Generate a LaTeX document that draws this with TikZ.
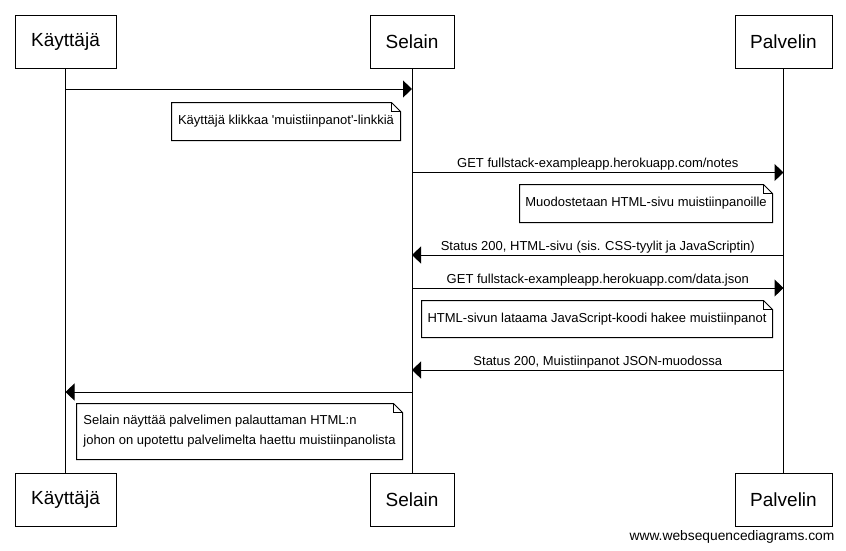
\documentclass[tikz,border=0pt]{standalone}
\usepackage{fontspec}
\setmainfont{Liberation Sans}[Ligatures=TeXOff]
\usetikzlibrary{arrows.meta}
\begin{document}
\begin{tikzpicture}[x=1pt,y=-1pt,
  line width=1pt,
  actor/.style={draw, line width=1pt, minimum height=53pt, inner sep=0pt, font=\fontsize{19}{22}\selectfont},
  notebox/.style={inner sep=0pt, font=\fontsize{13}{20}\selectfont, align=left},
  msg/.style={-{Triangle[length=9pt,width=17pt]}, line width=1pt},
  lbl/.style={above, inner sep=1.5pt, font=\fontsize{13}{15}\selectfont}]
\useasboundingbox[fill=white] (0,0) rectangle (846,550);

% participants
\node[actor, minimum width=101pt] (ka1) at (65.5,41.5) {Käyttäjä};
\node[actor, minimum width=84pt] (se1) at (412,41.5) {Selain};
\node[actor, minimum width=97pt] (pa1) at (783.5,41.5) {Palvelin};
\node[actor, minimum width=101pt] (ka2) at (65.5,499.5) {Käyttäjä};
\node[actor, minimum width=84pt] (se2) at (412,499.5) {Selain};
\node[actor, minimum width=97pt] (pa2) at (783.5,499.5) {Palvelin};

% lifelines
\draw (ka1.south) -- (ka2.north);
\draw (se1.south) -- (se2.north);
\draw (pa1.south) -- (pa2.north);

% message anchor points
\coordinate (k1) at (65.5,89);
\coordinate (s1) at (412,89);
\coordinate (s2) at (412,172.5);
\coordinate (p2) at (783.5,172.5);
\coordinate (p3) at (783.5,255);
\coordinate (s3) at (412,255);
\coordinate (s4) at (412,288);
\coordinate (p4) at (783.5,288);
\coordinate (p5) at (783.5,370);
\coordinate (s5) at (412,370);
\coordinate (s6) at (412,392);
\coordinate (k6) at (65.5,392);

\draw[msg] (k1) -- (s1);
\draw[msg] (s2) -- node[lbl] {GET fullstack-exampleapp.herokuapp.com/notes} (p2);
\draw[msg] (p3) -- node[lbl] {Status 200, HTML-sivu (sis. CSS-tyylit ja JavaScriptin)} (s3);
\draw[msg] (s4) -- node[lbl] {GET fullstack-exampleapp.herokuapp.com/data.json} (p4);
\draw[msg] (p5) -- node[lbl] {Status 200, Muistiinpanot JSON-muodossa} (s5);
\draw[msg] (s6) -- (k6);

% notes
\node[notebox, minimum width=228pt, minimum height=37pt] (n1) at (286,121.5) {Käyttäjä klikkaa 'muistiinpanot'-linkkiä};
\node[notebox, minimum width=252pt, minimum height=37pt] (n2) at (646,203.5) {Muodostetaan HTML-sivu muistiinpanoille};
\node[notebox, minimum width=350pt, minimum height=36pt] (n3) at (597,319) {HTML-sivun lataama JavaScript-koodi hakee muistiinpanot};
\node[notebox, minimum width=325pt, minimum height=55pt] (n4) at (239.5,431.5) {Selain näyttää palvelimen palauttaman HTML:n\\johon on upotettu palvelimelta haettu muistiinpanolista};

\foreach \n in {n1,n2,n3,n4}{
  \draw (\n.north west) -- ([xshift=-9pt]\n.north east) -- ([yshift=-9pt]\n.north east)
        -- (\n.south east) -- (\n.south west) -- cycle;
  \draw ([xshift=-9pt]\n.north east) -- ([xshift=-9pt,yshift=-9pt]\n.north east) -- ([yshift=-9pt]\n.north east);
}

\node[font=\fontsize{13.8}{16}\selectfont, inner sep=0pt] (wm) at (732,537) {www.websequencediagrams.com};
\end{tikzpicture}
\end{document}
